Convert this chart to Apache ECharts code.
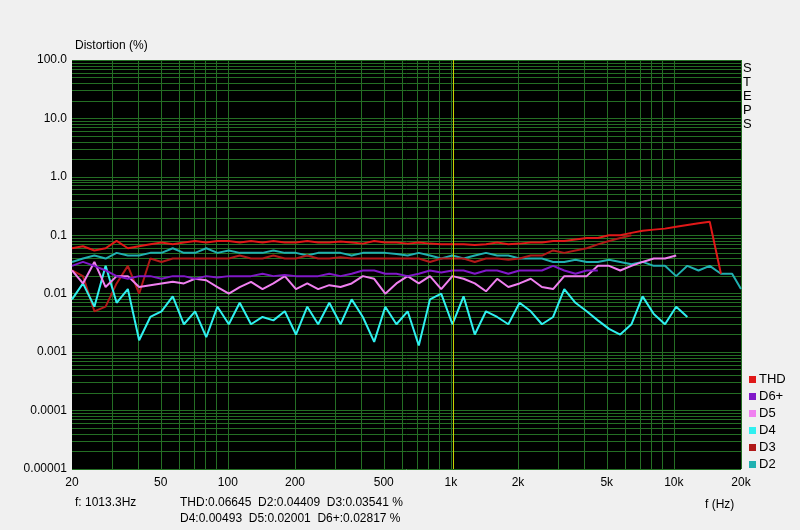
<!DOCTYPE html><html><head><meta charset="utf-8">
<script src="https://cdn.jsdelivr.net/npm/echarts@6/dist/echarts.min.js"></script>
<style>html,body{margin:0;background:#f0f0f0}#c{width:800px;height:530px}</style></head><body><div id="c"></div>
<script>
const freqs=[20,22.4,25.2,28.3,31.7,35.6,40,44.9,50.4,56.6,63.5,71.3,80,89.8,101,113,127,143,160,180,202,227,254,285,320,359,403,453,508,570,640,718,806,905,1016,1140,1280,1437,1613,1810,2032,2281,2560,2874,3225,3620,4064,4561,5120,5747,6451,7241,8127,9123,10240,11494,12902,14482,16255,18246,20000];
const thd=[0.06,0.065,0.055,0.06,0.08,0.06,0.065,0.07,0.075,0.07,0.075,0.08,0.075,0.08,0.08,0.075,0.08,0.075,0.08,0.075,0.075,0.08,0.075,0.075,0.078,0.075,0.072,0.08,0.075,0.075,0.072,0.075,0.072,0.07,0.07,0.07,0.068,0.07,0.075,0.07,0.072,0.075,0.075,0.08,0.08,0.085,0.09,0.09,0.1,0.1,0.11,0.12,0.125,0.13,0.14,0.15,0.16,0.17,0.022];
const d2=[0.035,0.04,0.045,0.04,0.05,0.045,0.045,0.05,0.05,0.06,0.05,0.05,0.06,0.05,0.055,0.05,0.05,0.05,0.055,0.05,0.05,0.045,0.05,0.05,0.05,0.045,0.05,0.05,0.05,0.048,0.045,0.05,0.045,0.04,0.045,0.04,0.045,0.05,0.045,0.045,0.04,0.04,0.04,0.035,0.035,0.038,0.035,0.035,0.038,0.035,0.032,0.035,0.03,0.03,0.02,0.03,0.025,0.03,0.022,0.022,0.012];
const d3=[0.025,0.02,0.005,0.006,0.015,0.03,0.01,0.04,0.035,0.04,0.04,0.04,0.04,0.04,0.04,0.045,0.04,0.04,0.045,0.04,0.04,0.045,0.04,0.04,0.042,0.04,0.04,0.04,0.04,0.04,0.04,0.04,0.035,0.04,0.04,0.04,0.035,0.04,0.04,0.038,0.04,0.045,0.045,0.055,0.05,0.055,0.06,0.07,0.08,0.09,0.1];
const d6=[0.03,0.035,0.03,0.025,0.02,0.018,0.02,0.02,0.018,0.02,0.02,0.018,0.02,0.019,0.02,0.02,0.02,0.022,0.02,0.021,0.02,0.02,0.02,0.022,0.02,0.022,0.025,0.025,0.022,0.022,0.02,0.022,0.025,0.023,0.025,0.025,0.022,0.025,0.025,0.022,0.025,0.025,0.025,0.03,0.025,0.022,0.025,0.025];
const d5=[0.025,0.015,0.035,0.013,0.02,0.02,0.013,0.014,0.015,0.016,0.015,0.018,0.017,0.013,0.01,0.013,0.016,0.012,0.015,0.02,0.012,0.015,0.012,0.014,0.013,0.015,0.02,0.018,0.01,0.015,0.02,0.015,0.02,0.012,0.02,0.018,0.015,0.011,0.018,0.013,0.015,0.018,0.013,0.012,0.02,0.02,0.02,0.03,0.03,0.025,0.03,0.035,0.04,0.04,0.045];
const d4=[0.008,0.015,0.006,0.03,0.007,0.012,0.0016,0.004,0.005,0.009,0.003,0.005,0.0018,0.006,0.003,0.007,0.003,0.004,0.0035,0.005,0.002,0.006,0.003,0.007,0.003,0.008,0.004,0.0015,0.006,0.003,0.005,0.0013,0.008,0.01,0.003,0.009,0.002,0.005,0.004,0.003,0.007,0.005,0.003,0.004,0.012,0.007,0.005,0.0035,0.0025,0.002,0.003,0.009,0.0045,0.003,0.006,0.004];
const xTickVals=[20,50,100,200,500,1000,2000,5000,10000,20000];
const xTickLabels=['20','50','100','200','500','1k','2k','5k','10k','20k'];
const yTickLabels={'2':'100.0','1':'10.0','0':'1.0','-1':'0.1','-2':'0.01','-3':'0.001','-4':'0.0001','-5':'0.00001'};
const cursorF=1013.3;
const L=Math.log10;
const pts=a=>a.map((v,i)=>[L(freqs[i]),L(v)]);
const gx=[],gy=[];
for(let d=10;d<=10000;d*=10)for(let m=1;m<10;m++){const f=d*m;if(f>=20&&f<=20000)gx.push(L(f));}
for(let e=-5;e<2;e++)for(let m=1;m<=10;m++)gy.push(e+L(m));
const gridLines=[...gx.map(x=>({xAxis:x})),...gy.map(y=>({yAxis:y}))];
const ser=(name,data,color)=>({name,type:'line',data:pts(data),symbol:'none',lineStyle:{width:2,color},itemStyle:{color},z:10,emphasis:{disabled:true}});
const chart=echarts.init(document.getElementById('c'));
chart.setOption({
 backgroundColor:'#f0f0f0',animation:false,
 textStyle:{fontFamily:'Liberation Sans'},
 grid:{left:72,right:59,top:60,bottom:61,show:true,backgroundColor:'#000',borderWidth:0},
 xAxis:{type:'value',min:L(20),max:L(20000),splitLine:{show:false},axisLine:{show:false},axisTick:{show:false},
  axisLabel:{customValues:xTickVals.map(L),formatter:v=>xTickLabels[xTickVals.findIndex(t=>Math.abs(L(t)-v)<1e-6)],color:'#000',fontSize:12,margin:8}},
 yAxis:{type:'value',min:-5,max:2,interval:1,splitLine:{show:false},axisLine:{show:false},axisTick:{show:false},
  axisLabel:{formatter:v=>yTickLabels[String(Math.round(v))],color:'#000',fontSize:12,margin:5}},
 legend:{orient:'vertical',left:744,top:368,icon:'rect',itemWidth:7,itemHeight:7,itemGap:4,textStyle:{fontSize:13,color:'#000',padding:[0,0,0,-2]},
  data:['THD','D6+','D5','D4','D3','D2']},
 graphic:[
  {type:'text',left:75,top:40,style:{text:'Distortion (%)',font:'12px Liberation Sans',fill:'#000'}},
  {type:'text',left:743,top:61,style:{text:'S\nT\nE\nP\nS',font:'13px Liberation Sans',fill:'#000',lineHeight:14}},
  {type:'text',left:705,top:499,style:{text:'f (Hz)',font:'12px Liberation Sans',fill:'#000'}},
  {type:'text',left:75,top:497,style:{text:'f: 1013.3Hz',font:'12px Liberation Sans',fill:'#000'}},
  {type:'text',left:180,top:497,style:{text:'THD:0.06645  D2:0.04409  D3:0.03541 %',font:'12px Liberation Sans',fill:'#000'}},
  {type:'text',left:180,top:513,style:{text:'D4:0.00493  D5:0.02001  D6+:0.02817 %',font:'12px Liberation Sans',fill:'#000'}}
 ],
 series:[
  {name:'grid',type:'line',data:[],silent:true,z:1,markLine:{z:1,silent:true,symbol:'none',label:{show:false},emphasis:{disabled:true},lineStyle:{color:'#246e24',width:1,type:'solid'},data:gridLines}},
  ser('D2',d2,'#20b0b0'),ser('D3',d3,'#b01818'),ser('D4',d4,'#30f0f0'),ser('D5',d5,'#f080f0'),ser('D6+',d6,'#8018c8'),ser('THD',thd,'#e01818'),
  {name:'cursor',type:'line',data:[],silent:true,z:20,markLine:{z:20,silent:true,symbol:'none',label:{show:false},emphasis:{disabled:true},lineStyle:{color:'#c8d000',width:1,type:'solid',opacity:1},data:[{xAxis:L(cursorF)}]}}
 ]
});
</script></body></html>
